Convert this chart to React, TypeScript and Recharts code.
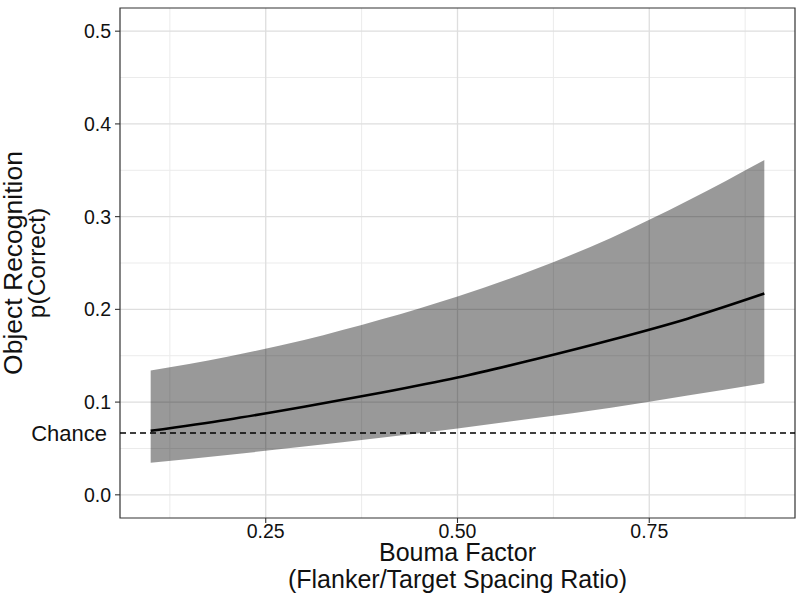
import React from "react";
import {
  ComposedChart,
  Area,
  Line,
  XAxis,
  YAxis,
  CartesianGrid,
  ReferenceLine,
  ReferenceArea,
} from "recharts";

// Bouma factor (flanker/target spacing ratio)
const bouma = [0.1, 0.2, 0.3, 0.4, 0.5, 0.6, 0.7, 0.8, 0.9];
// fitted p(correct) and its confidence band
const fit = [0.069, 0.081, 0.095, 0.11, 0.1265, 0.146, 0.167, 0.19, 0.217];
const lower = [0.0345, 0.043, 0.052, 0.0615, 0.0715, 0.0825, 0.094, 0.107, 0.1205];
const upper = [0.134, 0.149, 0.167, 0.189, 0.214, 0.243, 0.277, 0.317, 0.361];

const chance = 1 / 15;
const xTicks = [0.25, 0.5, 0.75];
const xMinor = [0.125, 0.375, 0.625, 0.875];
const yTicks = [0, 0.1, 0.2, 0.3, 0.4, 0.5];
const yMinor = [0.05, 0.15, 0.25, 0.35, 0.45];

const xDomain: [number, number] = [0.06, 0.94];
const yDomain: [number, number] = [-0.025, 0.525];

const font = "'Liberation Sans', Arial, Helvetica, sans-serif";
const ink = "#111";

const data = bouma.map((x, i) => ({
  x,
  fit: fit[i],
  band: [lower[i], upper[i]],
}));

function XTick(props: any) {
  const { x, y, payload } = props;
  return (
    <g>
      <line x1={x} x2={x} y1={y} y2={y + 5} stroke="#333" strokeWidth={1.1} />
      <text x={x} y={y + 20} textAnchor="middle" fontSize={19.5} fill={ink} fontFamily={font}>
        {payload.value.toFixed(2)}
      </text>
    </g>
  );
}

function YTick(props: any) {
  const { x, y, payload } = props;
  if (Math.abs(payload.value - chance) < 1e-6) {
    return (
      <text x={x - 13} y={y} dy="0.36em" textAnchor="end" fontSize={22} fill={ink} fontFamily={font}>
        Chance
      </text>
    );
  }
  return (
    <g>
      <line x1={x - 5} x2={x} y1={y} y2={y} stroke="#333" strokeWidth={1.1} />
      <text x={x - 9} y={y} dy="0.36em" textAnchor="end" fontSize={19.5} fill={ink} fontFamily={font}>
        {payload.value.toFixed(1)}
      </text>
    </g>
  );
}

function XTitle(props: any) {
  const { x, y, width } = props.viewBox;
  const cx = x + width / 2;
  return (
    <g fontFamily={font} fill={ink} fontSize={25} textAnchor="middle">
      <text x={cx} y={y + 43}>Bouma Factor</text>
      <text x={cx} y={y + 70}>(Flanker/Target Spacing Ratio)</text>
    </g>
  );
}

function YTitle(props: any) {
  const { y, height } = props.viewBox;
  const cy = y + height / 2;
  return (
    <g fontFamily={font} fill={ink} textAnchor="middle">
      <text x={22} y={cy} fontSize={26.5} transform={`rotate(-90, 22, ${cy})`}>
        Object Recognition
      </text>
      <text x={45} y={cy} fontSize={24.5} transform={`rotate(-90, 45, ${cy})`}>
        p(Correct)
      </text>
    </g>
  );
}

export default function App() {
  return (
    <div style={{ position: "absolute", left: 0, top: 0, width: 800, height: 600, background: "#fff" }}>
      <ComposedChart
        width={800}
        height={600}
        data={data}
        margin={{ top: 8, right: 5, bottom: 0, left: 0 }}
      >
        <CartesianGrid
          horizontalValues={yMinor}
          verticalValues={xMinor}
          stroke="#ebebeb"
          strokeWidth={1}
        />
        <CartesianGrid
          horizontalValues={yTicks}
          verticalValues={xTicks}
          stroke="#dedede"
          strokeWidth={1.3}
        />
        <XAxis
          dataKey="x"
          type="number"
          domain={xDomain}
          allowDataOverflow
          ticks={xTicks}
          height={82}
          axisLine={false}
          tickLine={false}
          tickSize={0}
          tickMargin={0}
          tick={<XTick />}
          label={{ content: <XTitle /> }}
        />
        <YAxis
          type="number"
          domain={yDomain}
          allowDataOverflow
          ticks={[...yTicks, chance]}
          width={120}
          axisLine={false}
          tickLine={false}
          tickSize={0}
          tickMargin={0}
          tick={<YTick />}
          interval={0}
          label={{ content: <YTitle /> }}
        />
        <Area
          dataKey="band"
          type="monotone"
          stroke="none"
          fill="#000"
          fillOpacity={0.4}
          isAnimationActive={false}
        />
        <ReferenceLine y={chance} stroke="#000" strokeWidth={1.5} strokeDasharray="6 4" />
        <Line
          dataKey="fit"
          type="monotone"
          stroke="#000"
          strokeWidth={2.6}
          dot={false}
          isAnimationActive={false}
        />
        <ReferenceArea
          x1={xDomain[0]}
          x2={xDomain[1]}
          y1={yDomain[0]}
          y2={yDomain[1]}
          fill="none"
          stroke="#333"
          strokeWidth={1.2}
        />
      </ComposedChart>
    </div>
  );
}
